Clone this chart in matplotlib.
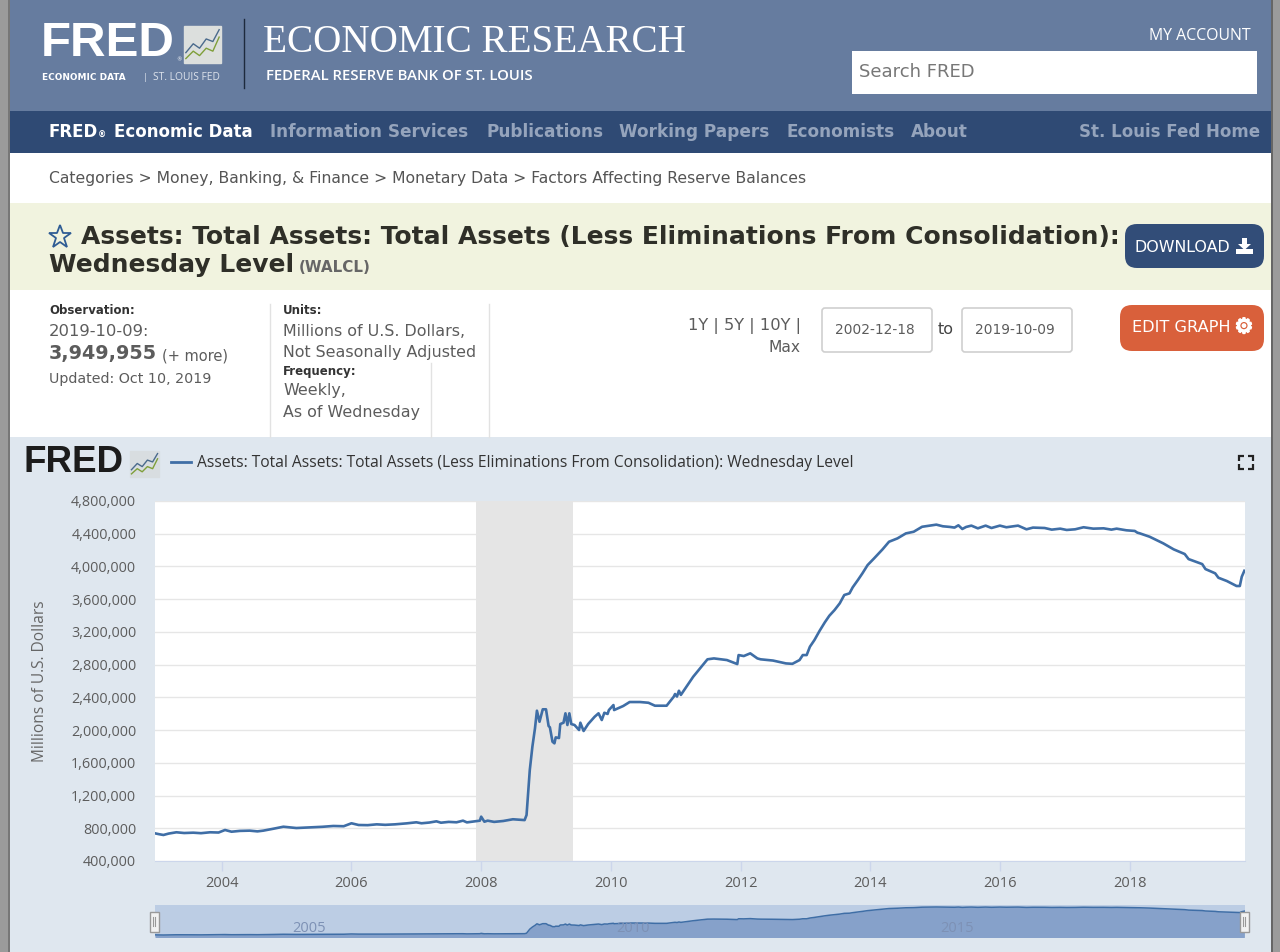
#!/usr/bin/env python3
"""FRED WALCL page: total assets of the Fed, weekly level."""

import matplotlib
matplotlib.use("Agg")
import matplotlib.patheffects as pe
import matplotlib.pyplot as plt
from matplotlib.patches import FancyBboxPatch, Polygon, Rectangle

# decimal year, millions of USD
YEARS = [
    2002.97, 2003.03, 2003.1, 2003.18, 2003.3, 2003.42, 2003.56, 2003.68, 2003.82, 2003.95, 2004.05, 2004.15,
    2004.28, 2004.43, 2004.55, 2004.64, 2004.8, 2004.95, 2005.15, 2005.36, 2005.55, 2005.72, 2005.88, 2006.0,
    2006.11, 2006.25, 2006.39, 2006.52, 2006.67, 2006.85, 2007.0, 2007.08, 2007.2, 2007.31, 2007.38, 2007.5,
    2007.62, 2007.72, 2007.78, 2007.9, 2007.98, 2008.0, 2008.05,
    2008.1, 2008.2, 2008.34, 2008.49, 2008.67, 2008.7, 2008.72, 2008.75, 2008.79, 2008.83, 2008.86, 2008.9,
    2008.95, 2009.0, 2009.04, 2009.06, 2009.1, 2009.13, 2009.15, 2009.2, 2009.22, 2009.27, 2009.3,
    2009.33, 2009.36, 2009.39, 2009.44, 2009.51, 2009.53, 2009.58, 2009.65, 2009.75, 2009.81, 2009.86,
    2009.9, 2009.95, 2009.97, 2010.04, 2010.05, 2010.19, 2010.29, 2010.45, 2010.58, 2010.68, 2010.86,
    2010.97, 2010.99, 2011.02, 2011.05, 2011.08, 2011.27, 2011.49, 2011.59, 2011.79, 2011.95, 2011.97,
    2012.05, 2012.15, 2012.26, 2012.31, 2012.5, 2012.7, 2012.8, 2012.91, 2012.96, 2013.02, 2013.07,
    2013.14, 2013.22, 2013.3, 2013.37, 2013.45, 2013.53, 2013.6, 2013.68, 2013.73, 2013.81, 2013.88,
    2013.96, 2014.06, 2014.19, 2014.29, 2014.42, 2014.55, 2014.67, 2014.8, 2015.02, 2015.12, 2015.23,
    2015.3, 2015.36, 2015.42, 2015.48, 2015.56, 2015.66, 2015.78, 2015.87, 2016.0, 2016.1, 2016.28,
    2016.41, 2016.51, 2016.69, 2016.8, 2016.93, 2017.03, 2017.16, 2017.29, 2017.44, 2017.6, 2017.72,
    2017.8, 2017.95, 2018.08, 2018.12, 2018.16, 2018.31, 2018.52, 2018.68, 2018.85,
    2018.91, 2019.12, 2019.17, 2019.32, 2019.37, 2019.5, 2019.65, 2019.7, 2019.73, 2019.77,
]
TOTAL_ASSETS = [
    738, 728, 718, 735, 751, 742, 746, 740, 751, 748, 779, 758,
    768, 771, 762, 771, 795, 819, 803, 811, 818, 828, 825, 861,
    840, 838, 848, 842, 848, 860, 873, 861, 870, 885, 868, 878,
    873, 893, 872, 885, 893, 942, 880,
    893, 878, 889, 910, 900, 962, 1186, 1512, 1797, 2021, 2237, 2102,
    2254, 2254, 2050, 2034, 1858, 1838, 1911, 1903, 2074, 2090, 2205,
    2062, 2205, 2074, 2062, 2001, 2090, 1989, 2074, 2163, 2205, 2123,
    2212, 2197, 2245, 2306, 2245, 2294, 2343, 2343, 2334, 2298, 2298,
    2408, 2441, 2410, 2481, 2430, 2652, 2865, 2876, 2856, 2807, 2917,
    2905, 2938, 2876, 2865, 2850, 2815, 2810, 2856, 2917, 2917, 3019,
    3101, 3214, 3317, 3398, 3467, 3549, 3651, 3671, 3745, 3834, 3916,
    4017, 4099, 4209, 4302, 4343, 4404, 4424, 4485, 4511, 4491, 4483,
    4475, 4503, 4458, 4483, 4499, 4466, 4499, 4470, 4499, 4479, 4499,
    4454, 4475, 4470, 4450, 4462, 4446, 4454, 4479, 4462, 4466, 4450,
    4462, 4442, 4434, 4413, 4404, 4363, 4282, 4209, 4152,
    4090, 4029, 3968, 3916, 3862, 3822, 3761, 3761, 3874, 3947,
]
RECESSION = [2007.92, 2009.42]
Y_TICKS = [400, 800, 1200, 1600, 2000, 2400, 2800, 3200, 3600, 4000, 4400, 4800]
X_TICKS = [2004, 2006, 2008, 2010, 2012, 2014, 2016, 2018]
NAV_TICKS = [2005, 2010, 2015]
NAV_LABELS = ["2005", "2010", "2015"]

NAV_ITEMS = ["Information Services", "Publications", "Working Papers", "Economists", "About"]
NAV_X = [270, 486, 619, 786, 911]

W, H = 1280, 952
LINE = "#3f6ea6"
GREY_TEXT = "#5c5c5c"
HEAVY = "Liberation Sans"


def px_axes(fig, left, top, right, bottom, **kw):
    # axes placed by pixel box, y counted from the top of the picture
    return fig.add_axes([left / W, 1 - bottom / H, (right - left) / W, (bottom - top) / H], **kw)


def icon(ax, x, y, w, h, box="#dcdfdd"):
    ax.add_patch(Rectangle((x, y), w, h, color=box, zorder=3))
    xs = [x + w * f for f in (0.05, 0.25, 0.42, 0.6, 0.78, 0.95)]
    ax.plot(xs, [y + h * f for f in (0.72, 0.48, 0.6, 0.35, 0.42, 0.1)], color="#4a6a8c", lw=1, zorder=4)
    ax.plot(xs, [y + h * f for f in (0.88, 0.68, 0.8, 0.6, 0.68, 0.3)], color="#7f9f3a", lw=1, zorder=4)


def button(ax, x0, y0, x1, y1, color):
    ax.add_patch(FancyBboxPatch((x0 + 12, y0 + 12), x1 - x0 - 24, y1 - y0 - 24,
                                boxstyle="round,pad=12", color=color, lw=0, zorder=3))


def page(fig):
    bg = px_axes(fig, 0, 0, W, H)
    bg.set_xlim(0, W)
    bg.set_ylim(H, 0)
    bg.axis("off")

    def box(x0, y0, x1, y1, color):
        bg.add_patch(Rectangle((x0, y0), x1 - x0, y1 - y0, color=color, lw=0))

    def txt(x, y, s, size, color=GREY_TEXT, **kw):
        kw.setdefault("va", "center")
        return bg.text(x, y, s, fontsize=size, color=color, zorder=5, **kw)

    box(0, 0, W, H, "#ffffff")
    box(0, 0, W, 111, "#667c9f")
    box(0, 111, W, 153, "#2f4a74")
    box(0, 203, W, 290, "#f1f3df")
    box(0, 437, W, H, "#dfe7ef")
    box(0, 0, 8, H, "#9b9b9b")
    box(8, 0, 10, H, "#777777")
    box(1271, 0, W, H, "#9b9b9b")
    box(1271, 0, 1273, H, "#666666")

    # header
    txt(41, 44, "FRED", 35.5, "white", family=HEAVY, weight="bold")
    txt(176, 60, "®", 4, "white")
    txt(42, 77, "ECONOMIC DATA", 6.4, "white", weight="bold")
    txt(143, 77, "|", 6.5, "#dde3ec", family="Open Sans")
    txt(153, 77, "ST. LOUIS FED", 7.4, "#dde3ec", family="Open Sans")
    icon(bg, 184, 26, 37, 37)
    bg.plot([244, 244], [19, 88], color="#1d2a3d", lw=1, zorder=4)
    txt(263, 42, "ECONOMIC RESEARCH", 28.2, "white", family="Liberation Serif")
    txt(266, 76, "FEDERAL RESERVE BANK OF ST. LOUIS", 10.7, "white", family="Open Sans", weight="semibold")
    txt(1251, 36, "MY ACCOUNT", 11.4, "white", ha="right", family="Open Sans")
    box(852, 51, 1257, 94, "#ffffff")
    txt(859, 72, "Search FRED", 13, "#777777", family="DejaVu Sans")

    # nav bar
    txt(49, 132, "FRED", 12, "white", weight="bold")
    txt(98, 135, "®", 6, "white", weight="bold")
    txt(114, 132, "Economic Data", 12, "white", weight="bold")
    for x, s in zip(NAV_X, NAV_ITEMS):
        txt(x, 132, s, 12.15, "#95a4bc", weight="bold")
    txt(1260, 132, "St. Louis Fed Home", 12, "#95a4bc", weight="bold", ha="right")
    txt(49, 178, "Categories > Money, Banking, & Finance > Monetary Data > Factors Affecting Reserve Balances",
        11.27, "#555555")

    # title band
    bg.plot([60], [237], marker="*", ms=17, mfc="none", mec="#2f5c94", mew=1.3, zorder=5)
    title_color = "#2f2f28"
    txt(81, 237, "Assets: Total Assets: Total Assets (Less Eliminations From Consolidation):", 18, title_color,
        weight="bold")
    txt(49, 265, "Wednesday Level", 18, title_color, weight="bold")
    txt(299, 268, "(WALCL)", 10.9, "#666666", weight="bold")
    button(bg, 1125, 224, 1264, 268, "#324d78")
    txt(1135, 247, "DOWNLOAD", 11.4, "white", family="DejaVu Sans")
    # download icon, arrow over a tray
    bg.add_patch(Polygon([(1242, 238), (1247, 238), (1247, 244), (1251, 244), (1244.5, 250), (1238, 244), (1242, 244)],
                         color="white", lw=0, zorder=5))
    bg.add_patch(Rectangle((1236, 249), 17, 4.5, color="white", lw=0, zorder=5))

    # info columns
    txt(49, 311, "Observation:", 8.5, "#333333", weight="bold")
    txt(49, 331, "2019-10-09:", 11.8)
    txt(49, 354, "3,949,955", 13.8, weight="bold")
    txt(162, 356, "(+ more)", 10.5)
    txt(49, 379, "Updated: Oct 10, 2019", 10.3)
    txt(283, 311, "Units:", 8.5, "#333333", weight="bold")
    txt(283, 331, "Millions of U.S. Dollars,", 11.4)
    txt(283, 352, "Not Seasonally Adjusted", 11.4)
    txt(283, 371, "Frequency:", 8.5, "#333333", weight="bold")
    txt(283, 391, "Weekly,", 11.4)
    txt(283, 413, "As of Wednesday", 11.4)
    for x, y0, y1 in [(270, 304, 437), (489, 304, 437), (431, 363, 437)]:
        bg.plot([x, x], [y0, y1], color="#e2e2e2", lw=1, zorder=2)

    # date range controls
    txt(801, 326, "1Y | 5Y | 10Y |", 11.7, ha="right")
    txt(801, 347, "Max", 11.2, ha="right")
    for x0, s in [(822, "2002-12-18"), (962, "2019-10-09")]:
        bg.add_patch(FancyBboxPatch((x0 + 3, 311), 104, 38, boxstyle="round,pad=3", fc="white", ec="#cfcfcf",
                                    lw=1.2, zorder=3))
        txt(x0 + 53, 330, s, 9.9, ha="center")
    txt(946, 329, "to", 11.5, "#444444", ha="center")
    button(bg, 1120, 305, 1264, 351, "#d9603b")
    txt(1132, 328, "EDIT GRAPH", 11.6, "white", family="DejaVu Sans")
    gear = txt(1244, 327, "⚙", 15, "white", ha="center", family="DejaVu Sans", weight="bold")
    gear.set_path_effects([pe.withStroke(linewidth=1.2, foreground="white")])

    # chart header
    txt(24, 463, "FRED", 26.5, "#1c1c1c", family=HEAVY, weight="bold")
    icon(bg, 130, 451, 29, 26, "#d8dde0")
    bg.plot([171, 191], [462, 462], color=LINE, lw=2, zorder=4)
    txt(197, 463, "Assets: Total Assets: Total Assets (Less Eliminations From Consolidation): Wednesday Level",
        11.25, "#333333", family="Open Sans")
    for cx, cy, dx, dy in [(1239, 456, 1, 1), (1253, 456, -1, 1), (1239, 469, 1, -1), (1253, 469, -1, -1)]:
        bg.plot([cx + 5 * dx, cx, cx], [cy, cy, cy + 5 * dy], color="#222222", lw=1.6, zorder=4,
                solid_capstyle="butt", solid_joinstyle="miter")
    txt(40, 681, "Millions of U.S. Dollars", 11.2, "#666666", rotation=90, ha="center", family="Open Sans")
    return bg


def main_chart(fig):
    ax = px_axes(fig, 155, 501, 1245, 861)
    ax.set_xlim(2002.97, 2019.78)
    ax.set_ylim(400, 4800)
    ax.axvspan(*RECESSION, color="#e5e5e5", lw=0, zorder=1)
    ax.grid(True, axis="y", color="#e6e6e6", lw=1, zorder=2)
    ax.set_axisbelow(True)
    ax.plot(YEARS, TOTAL_ASSETS, color=LINE, lw=1.9, zorder=3, solid_joinstyle="round")
    for side in ("top", "left", "right"):
        ax.spines[side].set_visible(False)
    ax.spines["bottom"].set_color("#ccd6eb")
    ax.set_yticks(Y_TICKS)
    ax.set_yticklabels([f"{v * 1000:,}" for v in Y_TICKS], fontsize=10.4, color="#5c5c5c", family="Open Sans")
    ax.set_xticks(X_TICKS)
    ax.set_xticklabels([str(v) for v in X_TICKS], fontsize=10.5, color="#5c5c5c", family="Open Sans")
    ax.tick_params(axis="y", length=0, pad=13.5)
    ax.tick_params(axis="x", length=7, color="#ccd6eb", width=1, pad=3.5)
    return ax


def navigator(fig):
    nav = px_axes(fig, 155, 905, 1245, 937)
    nav.set_xlim(2002.97, 2019.78)
    nav.set_ylim(450, 4780)
    nav.set_facecolor("#bccde4")
    nav.fill_between(YEARS, TOTAL_ASSETS, 0, color="#86a1ca", lw=0)
    nav.plot(YEARS, TOTAL_ASSETS, color=LINE, lw=1.1)
    nav.set_xticks([])
    nav.set_yticks([])
    for side in nav.spines.values():
        side.set_visible(False)
    for x, s in zip(NAV_TICKS, NAV_LABELS):
        nav.annotate(s, (x, 0.28), xycoords=("data", "axes fraction"), xytext=(4, 0), textcoords="offset points",
                     fontsize=10.5, color="#7d91b5", family="Open Sans", ha="left", va="center")
    return nav


def handles(top):
    for x in (154, 1244):
        top.add_patch(Rectangle((x - 4.5, 912), 9, 19.5, fc="#f2f2f2", ec="#999999", lw=1, zorder=6))
        top.plot([x - 1, x - 1], [917, 926], color="#999999", lw=0.8, zorder=7)
        top.plot([x + 1, x + 1], [917, 926], color="#999999", lw=0.8, zorder=7)


fig = plt.figure(figsize=(W / 100, H / 100), dpi=100)
bg = page(fig)
main_chart(fig)
navigator(fig)
overlay = px_axes(fig, 0, 0, W, H)
overlay.set_xlim(0, W)
overlay.set_ylim(H, 0)
overlay.axis("off")
handles(overlay)
fig.savefig("out.png", dpi=100)
